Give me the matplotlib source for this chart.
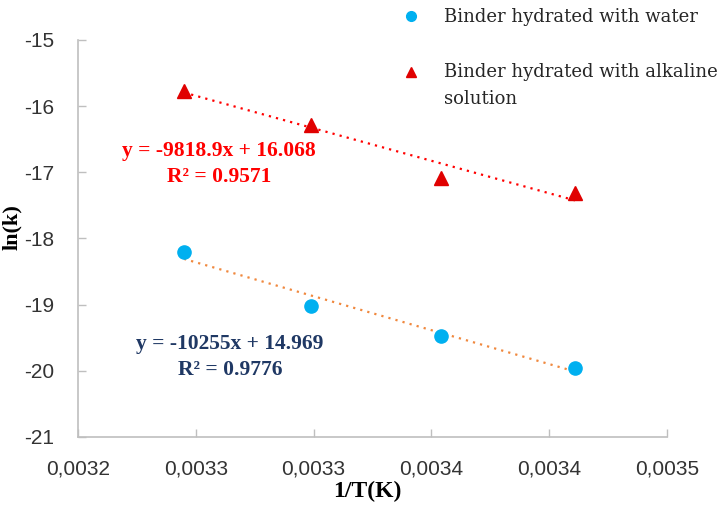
import matplotlib
matplotlib.use('Agg')
import matplotlib.pyplot as plt
from matplotlib.lines import Line2D
from matplotlib.legend_handler import HandlerLine2D
from matplotlib.transforms import Affine2D
import numpy as np

# ---- data ----
inv_T = [0.003245, 0.003299, 0.003354, 0.003411]
ln_k_water = [-18.20, -19.02, -19.47, -19.95]
ln_k_alkaline = [-15.77, -16.28, -17.09, -17.31]
fit_water = (-10255.0, 14.969)
fit_alkaline = (-9818.9, 16.068)
eq_water = "y = -10255x + 14.969\nR² = 0.9776"
eq_alkaline = "y = -9818.9x + 16.068\nR² = 0.9571"
series_labels = ["Binder hydrated with water", "Binder hydrated with alkaline\nsolution"]
x_ticks = [0.0032, 0.00325, 0.0033, 0.00335, 0.0034, 0.00345]
x_tick_labels = ["0,0032", "0,0033", "0,0033", "0,0034", "0,0034", "0,0035"]
y_ticks = [-21, -20, -19, -18, -17, -16, -15]
y_tick_labels = ["-21", "-20", "-19", "-18", "-17", "-16", "-15"]
x_label = "1/T(K)"
y_label = "ln(k)"

W, H = 719, 505
fig = plt.figure(figsize=(W / 100, H / 100), dpi=100)
L, R, T, B = 78, 667, 40, 437
ax = fig.add_axes([L / W, 1 - B / H, (R - L) / W, (B - T) / H])

blue = '#00B0F0'
red = '#E00000'
orange = '#F0883E'
navy = '#1F3864'

x = np.array(inv_T)
xs = np.array([x.min(), x.max()])
ax.plot(xs, fit_water[0] * xs + fit_water[1], color=orange, lw=1.6,
        linestyle=(0, (1, 2.3)), zorder=2)
ax.plot(xs, fit_alkaline[0] * xs + fit_alkaline[1], color='#FF0000', lw=1.6,
        linestyle=(0, (1, 2.3)), zorder=2)
ax.plot(x, ln_k_water, 'o', color=blue, markersize=9.5, linestyle='none', zorder=3)
ax.plot(x, ln_k_alkaline, '^', color=red, markersize=10, linestyle='none', zorder=3)

ax.set_xlim(x_ticks[0], x_ticks[-1])
ax.set_ylim(y_ticks[0], y_ticks[-1])
ax.set_xticks(x_ticks)
ax.set_xticklabels(x_tick_labels)
ax.set_yticks(y_ticks)
ax.set_yticklabels(y_tick_labels)

tick_font = ['Liberation Sans', 'DejaVu Sans']
for lab in ax.get_xticklabels() + ax.get_yticklabels():
    lab.set_family(tick_font)
    lab.set_fontsize(15)
    lab.set_color('#333333')

for s in ['top', 'right']:
    ax.spines[s].set_visible(False)
for s in ['left', 'bottom']:
    ax.spines[s].set_color('#BFBFBF')
    ax.spines[s].set_linewidth(1.2)
ax.tick_params(axis='both', direction='in', length=6, width=1, color='#BFBFBF')
ax.tick_params(axis='y', pad=17)
ax.tick_params(axis='x', pad=16)

ax.set_xlabel(x_label, family=['Liberation Serif'], fontsize=17, fontweight='bold')
ax.set_ylabel(y_label, family=['Liberation Serif'], fontsize=16, fontweight='bold')
ax.xaxis.set_label_coords((367 - L) / (R - L), -(491 - B) / (B - T))
ax.yaxis.set_label_coords((12 - L) / (R - L), (B - 227) / (B - T))
ax.xaxis.label.set_va('center')
ax.yaxis.label.set_va('center')

ax.text((219 - L) / (R - L), (B - 164) / (B - T), eq_alkaline, transform=ax.transAxes,
        ha='center', va='center', multialignment='center', color='#FF0000',
        family=['Liberation Serif'], fontsize=15.5, fontweight='bold', linespacing=1.35)
ax.text((230 - L) / (R - L), (B - 357) / (B - T), eq_water, transform=ax.transAxes,
        ha='center', va='center', multialignment='center', color=navy,
        family=['Liberation Serif'], fontsize=15.5, fontweight='bold', linespacing=1.35)


class ShiftedHandler(HandlerLine2D):
    def __init__(self, dy, **kw):
        super().__init__(**kw)
        self.dy = dy

    def create_artists(self, legend, orig_handle, xdescent, ydescent, width,
                       height, fontsize, trans):
        trans = trans + Affine2D().translate(0, self.dy)
        return super().create_artists(legend, orig_handle, xdescent, ydescent,
                                      width, height, fontsize, trans)


handles = [Line2D([], [], marker='o', color=blue, linestyle='none', markersize=7),
           Line2D([], [], marker='^', color=red, linestyle='none', markersize=7)]
fs = 13
leg = fig.legend(handles, series_labels, loc='upper left',
                 bbox_to_anchor=(402 / W, 1 - 8 / H), bbox_transform=fig.transFigure,
                 frameon=False, fontsize=fs, handlelength=1.0, handletextpad=1.3,
                 borderpad=0, borderaxespad=0, labelspacing=2.05,
                 prop={'family': ['DejaVu Serif'], 'size': fs},
                 handler_map={handles[1]: ShiftedHandler(14)})
for t in leg.get_texts():
    t.set_color('#262626')
leg.get_texts()[1].set_linespacing(1.65)

fig.savefig('out.png', dpi=100)
